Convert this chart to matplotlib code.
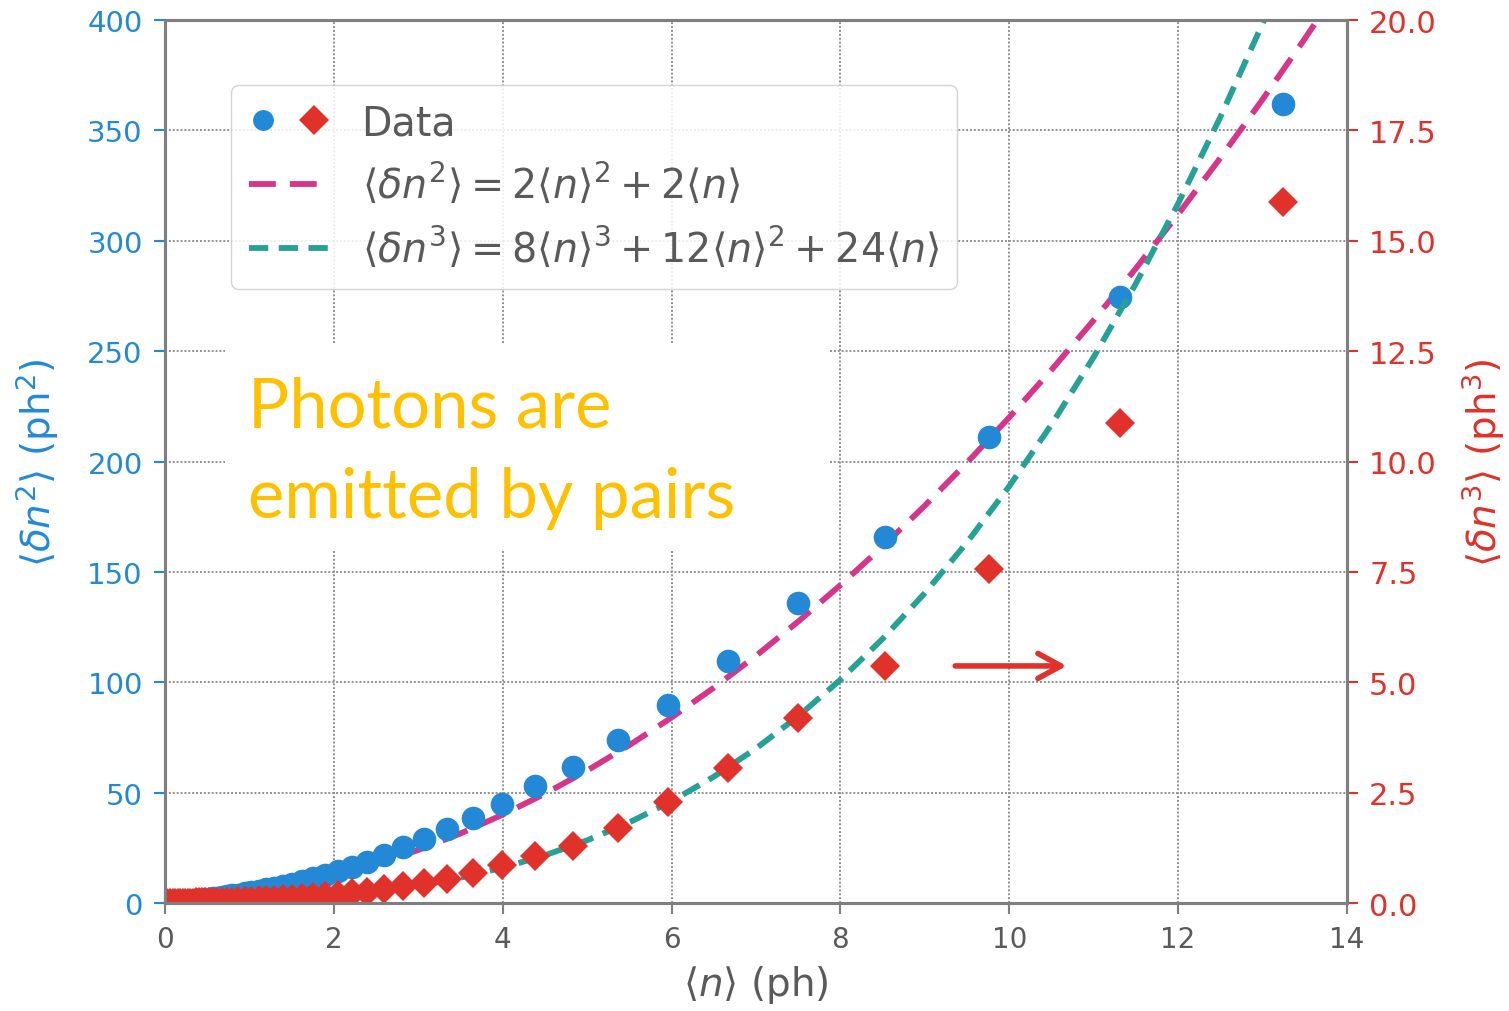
import matplotlib
matplotlib.use("Agg")
import matplotlib.pyplot as plt
from matplotlib.lines import Line2D
from matplotlib.legend_handler import HandlerTuple
from matplotlib.patches import Rectangle

# measured mean photon number <n> (ph)
n_data = [0.03, 0.06, 0.09, 0.12, 0.15, 0.18, 0.21, 0.24, 0.27, 0.30,
          0.33, 0.365, 0.40, 0.435, 0.475, 0.52, 0.57, 0.62, 0.675, 0.735,
          0.80, 0.87, 0.945, 1.025, 1.11, 1.20, 1.295, 1.395, 1.505, 1.625,
          1.755, 1.895, 2.045, 2.21, 2.39, 2.59, 2.82, 3.07, 3.34, 3.65,
          3.99, 4.38, 4.83, 5.37, 5.96, 6.67, 7.50, 8.53, 9.76, 11.31, 13.24]

# <dn^2> (ph^2), left axis
dn2_data = [0.08, 0.16, 0.24, 0.33, 0.42, 0.52, 0.62, 0.73, 0.84, 0.95,
            1.06, 1.21, 1.35, 1.50, 1.68, 1.90, 2.14, 2.40, 2.69, 3.03,
            3.41, 3.84, 4.33, 4.87, 5.49, 6.17, 6.93, 7.77, 8.75, 9.87,
            11.16, 12.64, 14.31, 16.27, 18.54, 21.8, 25.4, 29.0, 33.5, 38.5,
            44.8, 53.0, 61.6, 73.8, 89.7, 109.6, 135.9, 165.8, 211.0, 274.5, 362.0]

# <dn^3> (ph^3, x1000), right axis
dn3_data = [0.001, 0.002, 0.003, 0.004, 0.005, 0.006, 0.007, 0.008, 0.009, 0.010,
            0.011, 0.012, 0.014, 0.015, 0.017, 0.019, 0.021, 0.024, 0.027, 0.030,
            0.034, 0.039, 0.044, 0.050, 0.058, 0.066, 0.076, 0.087, 0.100, 0.116,
            0.135, 0.158, 0.185, 0.218, 0.259, 0.32, 0.38, 0.45, 0.54, 0.68,
            0.86, 1.06, 1.29, 1.70, 2.29, 3.06, 4.19, 5.37, 7.57, 10.87, 15.88]

# theory curves
n_curve = [0.0, 0.5, 1.0, 1.5, 2.0, 2.5, 3.0, 3.5, 4.0, 4.5, 5.0, 5.5, 6.0, 6.5,
           7.0, 7.5, 8.0, 8.5, 9.0, 9.5, 10.0, 10.5, 11.0, 11.5, 12.0, 12.5,
           13.0, 13.5, 14.0]
dn2_curve = [0.0, 1.5, 4.0, 7.5, 12.0, 17.5, 24.0, 31.5, 40.0, 49.5, 60.0, 71.5,
             84.0, 97.5, 112.0, 127.5, 144.0, 161.5, 180.0, 199.5, 220.0, 241.5,
             264.0, 287.5, 312.0, 337.5, 364.0, 391.5, 420.0]
dn3_curve = [0.0, 0.016, 0.044, 0.090, 0.160, 0.260, 0.396, 0.574, 0.800, 1.080,
             1.420, 1.826, 2.304, 2.860, 3.500, 4.230, 5.056, 5.984, 7.020, 8.170,
             9.440, 10.836, 12.364, 14.030, 15.840, 17.800, 19.916, 22.194, 24.640]

x_ticks = [0, 2, 4, 6, 8, 10, 12, 14]
left_ticks = [0, 50, 100, 150, 200, 250, 300, 350, 400]
right_ticks = [0.0, 2.5, 5.0, 7.5, 10.0, 12.5, 15.0, 17.5, 20.0]

BLUE = "#2389d6"
RED = "#e0312a"
PINK = "#d6358a"
TEAL = "#25a295"
GRAY = "#7f7f7f"
TXT = "#5a5a5a"


def main():
    fig = plt.figure(figsize=(15.09, 10.12), dpi=100)
    ax = fig.add_axes([0.1093, 0.1067, 0.7833, 0.8725])
    ax2 = ax.twinx()

    ax.plot(n_curve, dn2_curve, color=PINK, lw=4.2, dashes=(4.6, 2.4))
    ax.plot(n_data, dn2_data, "o", color=BLUE, ms=17, mew=0)
    ax2.plot(n_curve, dn3_curve, color=TEAL, lw=4.2, dashes=(3.3, 1.8))
    ax2.plot(n_data, dn3_data, "D", color=RED, ms=15.5, mew=0)

    ax.set_xlim(0, 14)
    ax.set_ylim(0, 400)
    ax2.set_ylim(0, 20)
    ax.set_xticks(x_ticks)
    ax.set_yticks(left_ticks)
    ax2.set_yticks(right_ticks)
    ax2.set_yticklabels([f"{v:.1f}" for v in right_ticks])

    ax.grid(True, color="#8f8f8f", lw=1.4, ls=(0, (1, 1)))
    ax2.grid(False)
    for a in (ax, ax2):
        for s in a.spines.values():
            s.set_color(GRAY)
            s.set_linewidth(2.2)

    ax.tick_params(axis="x", colors=TXT, labelsize=20, length=8, width=1.5,
                   pad=8)
    ax.tick_params(axis="x", color=GRAY)
    ax.tick_params(axis="y", colors=BLUE, labelsize=21, length=8, width=1.5,
                   pad=8)
    ax2.tick_params(axis="y", colors=RED, labelsize=22, length=8, width=1.5,
                    pad=8)

    ax.set_xlabel(r"$\langle n \rangle$ (ph)", fontsize=28, color=TXT)
    ax.xaxis.set_label_coords(0.5, -0.068)
    ax.set_ylabel(r"$\langle \delta n^2 \rangle$ (ph$^2$)", fontsize=28,
                  color=BLUE)
    ax.yaxis.set_label_coords(-0.088, 0.5)
    ax2.set_ylabel(r"$\langle \delta n^3 \rangle$ (ph$^3$)", fontsize=28,
                   color=RED)
    ax2.yaxis.set_label_coords(1.095, 0.5)

    # arrow pointing to the right axis
    ax.annotate("", xy=(10.68, 107.4), xytext=(9.36, 107.4),
                arrowprops=dict(arrowstyle="->,head_length=0.55,head_width=0.3",
                                color=RED, lw=4, mutation_scale=30,
                                shrinkA=0, shrinkB=0))

    # white box behind the annotation text
    ax2.add_patch(Rectangle((0.0508, 0.401), 0.512, 0.232,
                            transform=ax2.transAxes, facecolor="white",
                            edgecolor="none", zorder=5))
    fig.text(0.1643, 1 - 428 / 1012, "Photons are", fontsize=49.5,
             family="Lato", color="#FFC000", va="baseline", zorder=6)
    fig.text(0.1643, 1 - 518 / 1012, "emitted by pairs", fontsize=49.5,
             family="Lato", color="#FFC000", va="baseline", zorder=6)

    h_data = (Line2D([], [], ls="", marker="o", color=BLUE, ms=15, mew=0),
              Line2D([], [], ls="", marker="D", color=RED, ms=15, mew=0))
    h_pink = Line2D([], [], color=PINK, lw=4.2, dashes=(4.6, 2.4))
    h_teal = Line2D([], [], color=TEAL, lw=4.2, dashes=(3.3, 1.8))
    leg = ax2.legend(
        [h_data, h_pink, h_teal],
        ["Data",
         r"$\langle \delta n^2 \rangle = 2\langle n \rangle^2 + 2\langle n \rangle$",
         r"$\langle \delta n^3 \rangle = 8\langle n \rangle^3 + 12\langle n \rangle^2 + 24\langle n \rangle$"],
        handler_map={tuple: HandlerTuple(ndivide=None, pad=0.55)},
        loc="upper left", bbox_to_anchor=(0.0558, 0.926), borderaxespad=0,
        fontsize=28.5, handlelength=2.0, handletextpad=0.85, labelspacing=0.45,
        borderpad=0.45, frameon=True, fancybox=True, framealpha=0.85,
        edgecolor="#cccccc")
    for t in leg.get_texts():
        t.set_color(TXT)
    leg.set_zorder(10)

    plt.savefig("out.png", dpi=100)


if __name__ == "__main__":
    main()
